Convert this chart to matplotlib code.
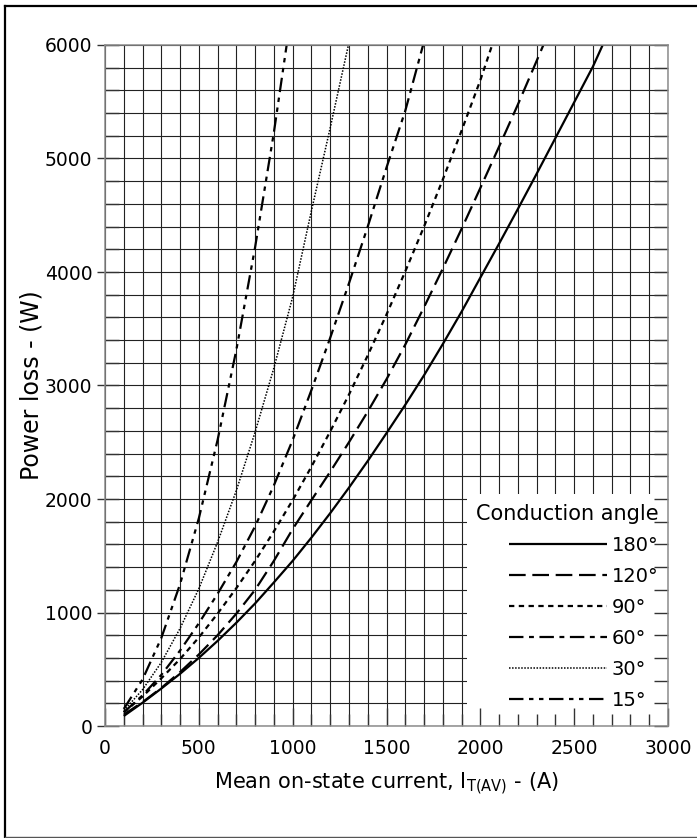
import numpy as np
import matplotlib
matplotlib.use("Agg")
import matplotlib.pyplot as plt
from matplotlib.patches import Rectangle
from matplotlib.lines import Line2D
from matplotlib.ticker import MultipleLocator

plt.rcParams['font.family'] = ['DejaVu Sans']

# ---- data ----
angles = ["180°", "120°", "90°", "60°", "30°", "15°"]

i_180 = [100, 200, 300, 400, 500, 600, 700, 800, 900, 1000, 1100, 1200, 1300, 1400, 1500,
         1600, 1700, 1800, 1900, 2000, 2100, 2200, 2300, 2400, 2500, 2600, 2652]
p_180 = [88, 205, 330, 460, 600, 750, 910, 1080, 1265, 1455, 1660, 1875, 2100, 2335, 2580,
         2830, 3090, 3365, 3650, 3950, 4250, 4555, 4865, 5180, 5495, 5810, 6000]

i_120 = [100, 200, 300, 400, 500, 600, 700, 800, 900, 1000, 1100, 1200, 1300, 1400, 1500,
         1600, 1700, 1800, 1900, 2000, 2100, 2200, 2300, 2336]
p_120 = [100, 210, 335, 475, 630, 800, 990, 1200, 1455, 1735, 1990, 2240, 2500, 2770, 3055,
         3360, 3690, 4030, 4380, 4740, 5105, 5475, 5860, 6000]

i_90 = [100, 200, 300, 400, 500, 600, 700, 800, 900, 1000, 1100, 1200, 1300, 1400, 1500,
        1600, 1700, 1800, 1900, 2000, 2063]
p_90 = [120, 260, 420, 590, 780, 990, 1215, 1455, 1715, 1990, 2285, 2595, 2920, 3265, 3625,
        4005, 4400, 4815, 5245, 5690, 6000]

i_60 = [100, 200, 300, 400, 500, 600, 700, 800, 900, 1000, 1100, 1200, 1300, 1400, 1500,
        1600, 1695]
p_60 = [120, 270, 450, 665, 905, 1165, 1445, 1760, 2120, 2520, 2960, 3420, 3900, 4400, 4920,
        5420, 6000]

i_30 = [100, 200, 300, 400, 500, 600, 700, 800, 900, 1000, 1100, 1200, 1297]
p_30 = [135, 320, 560, 860, 1210, 1620, 2075, 2590, 3155, 3780, 4540, 5270, 6000]

i_15 = [100, 200, 300, 400, 500, 600, 700, 800, 900, 968]
p_15 = [150, 410, 775, 1250, 1830, 2520, 3315, 4220, 5230, 6000]

x_ticks = [0, 500, 1000, 1500, 2000, 2500, 3000]
y_ticks = [0, 1000, 2000, 3000, 4000, 5000, 6000]

# ---- figure ----
W, H = 697, 838
fig = plt.figure(figsize=(W / 100, H / 100), dpi=100)
ax = fig.add_axes([105 / W, 1 - 726 / H, 563 / W, 681 / H])
ax.set_xlim(0, 3000)
ax.set_ylim(0, 6000)

grid_c = '#222222'
for gx in np.arange(0, 3001, 100):
    ax.axvline(gx, color=grid_c, lw=0.8, zorder=1)
for gy in np.arange(0, 6001, 200):
    ax.axhline(gy, color=grid_c, lw=0.8, zorder=1)

# white legend area
ax.add_patch(Rectangle((0.643, 0.0), 0.357, 0.34, transform=ax.transAxes,
                       facecolor='white', edgecolor='none', zorder=1.5))

lw = 1.6
series = [
    (i_180, p_180, dict(ls='-', lw=lw)),
    (i_120, p_120, dict(ls=(0, (7.5, 3.0)), lw=lw)),
    (i_90, p_90, dict(ls=(0, (2.4, 2.0)), lw=lw)),
    (i_60, p_60, dict(ls=(0, (6.5, 2.5, 2.2, 2.5)), lw=lw)),
    (i_30, p_30, dict(ls=(0, (1.0, 1.0)), lw=1.1)),
    (i_15, p_15, dict(ls=(0, (6.5, 2.5, 2.0, 2.5, 2.0, 2.5)), lw=lw)),
]
for (xs, ys, st), lab in zip(series, angles):
    ax.plot(xs, ys, color='black', label=lab, zorder=2,
            solid_capstyle='butt', dash_capstyle='butt', **st)

ax.set_xticks(x_ticks)
ax.set_yticks(y_ticks)
ax.xaxis.set_minor_locator(MultipleLocator(100))
ax.yaxis.set_minor_locator(MultipleLocator(200))
ax.tick_params(axis='x', which='major', direction='in', length=13, width=1.0,
               color='#333333', labelsize=13.5, pad=9)
ax.tick_params(axis='x', which='minor', direction='in', length=9, width=1.0, color='#333333')
ax.tick_params(axis='y', which='both', direction='in', length=10, width=1.0,
               color='#333333', left=True, right=True, labelsize=13.5, pad=9)
for s in ax.spines.values():
    s.set_color('#8c8c8c')
    s.set_linewidth(1.1)

# outward short ticks on the left at labelled values
sec = ax.secondary_yaxis('left')
sec.set_yticks(y_ticks)
sec.tick_params(direction='out', length=6, width=1.0, color='#333333', labelleft=False)
sec.spines['left'].set_visible(False)

ax.set_xlabel(r'Mean on-state current, I$_{\mathregular{T(AV)}}$ - (A)', fontsize=15, labelpad=9)
ax.set_ylabel('Power loss - (W)', fontsize=17, labelpad=1)

leg = ax.legend(loc='upper left', bbox_to_anchor=(466 / W, 1 - 494 / H),
                bbox_transform=fig.transFigure, frameon=False,
                title='Conduction angle', title_fontsize=15, fontsize=14,
                handlelength=5.05, handletextpad=0.25, labelspacing=0.62,
                borderpad=0.0, alignment='right')
leg.set_zorder(3)

# figure border (left, top, bottom)
fig.add_artist(Line2D([5 / W, 5 / W], [1 / H, 1 - 6 / H], color='black', lw=1.6,
                      transform=fig.transFigure))
fig.add_artist(Line2D([5 / W, 1.0], [1 - 6 / H, 1 - 6 / H], color='black', lw=1.6,
                      transform=fig.transFigure))
fig.add_artist(Line2D([5 / W, 1.0], [1.2 / H, 1.2 / H], color='#555555', lw=1.0,
                      transform=fig.transFigure))

fig.savefig('out.png', dpi=100)
